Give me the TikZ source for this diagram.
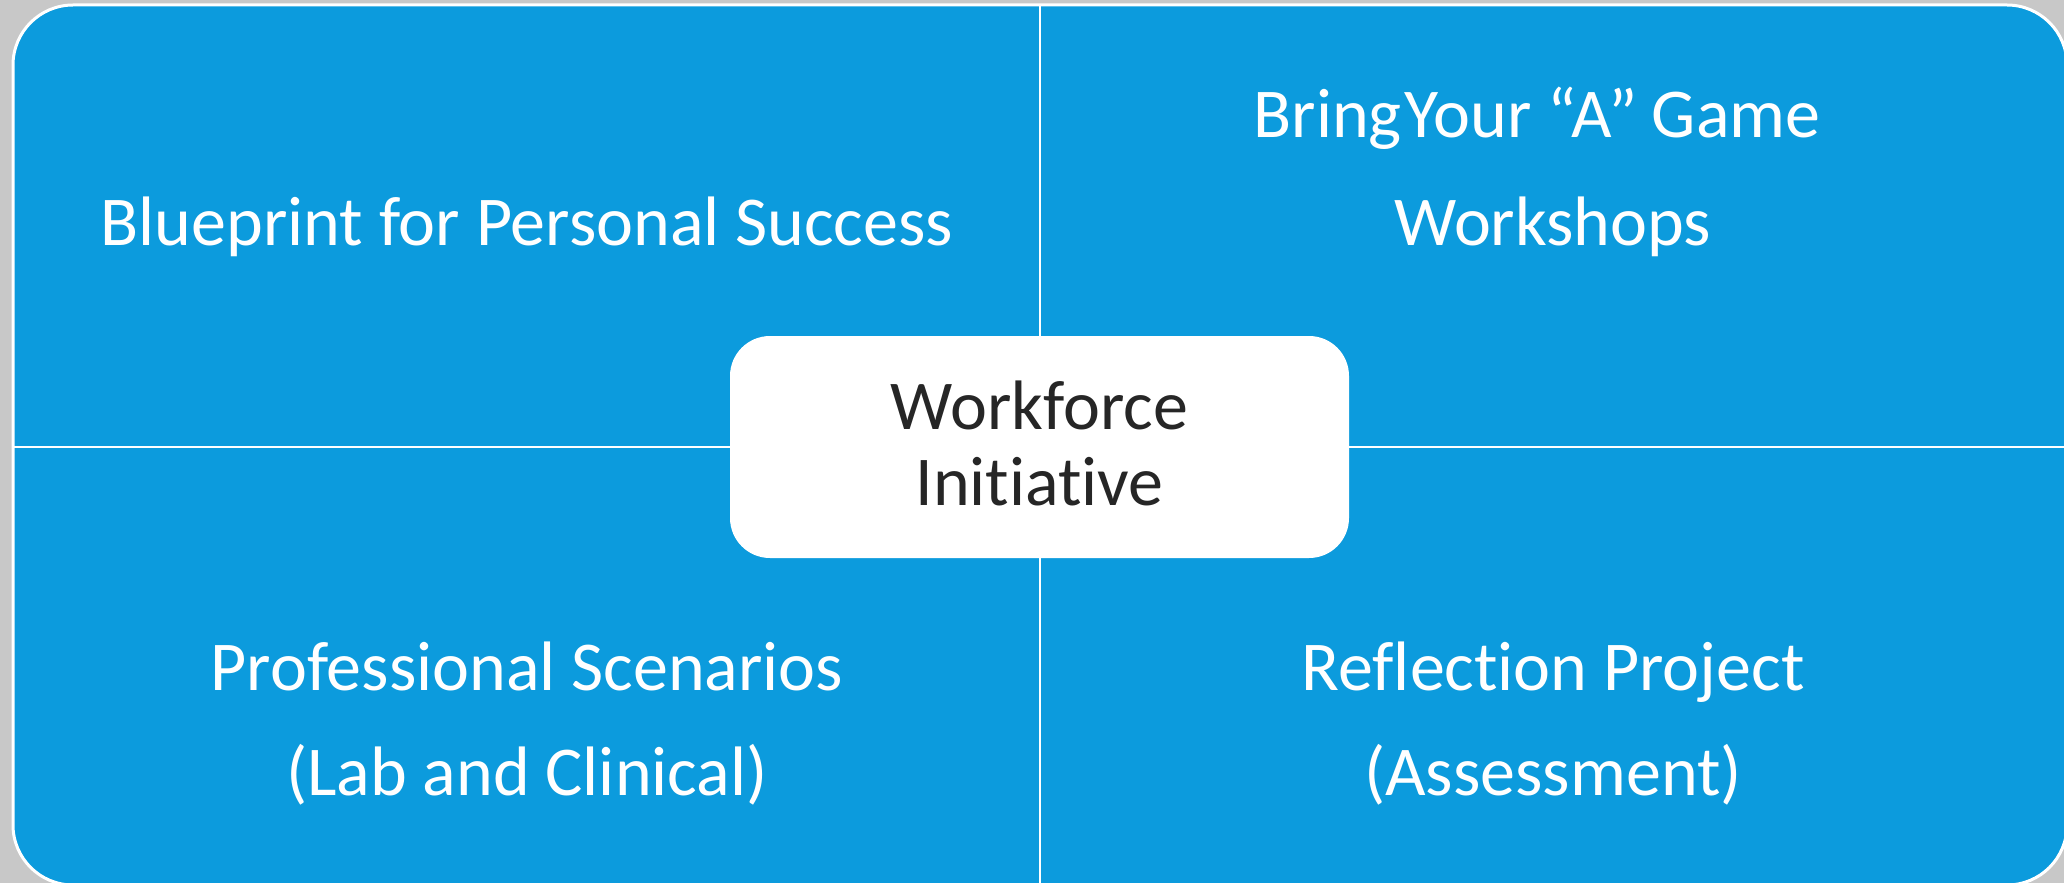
\documentclass[tikz,border=0pt]{standalone}
\usepackage{fontspec}
\setmainfont{Carlito}[Ligatures={NoCommon}]
\definecolor{mblue}{RGB}{12,155,221}
\definecolor{bggray}{RGB}{200,200,200}
\definecolor{darktext}{RGB}{38,38,38}
\begin{document}
\begin{tikzpicture}[x=1pt,y=-1pt,
  quadtext/.style={text=white, font=\fontsize{70}{84}\selectfont, anchor=base, inner sep=0pt},
  hubtext/.style={text=darktext, font=\fontsize{70}{84}\selectfont, anchor=base, inner sep=0pt},
  divider/.style={draw=white, line width=2.5pt},
  frame/.style={fill=mblue, draw=white, line width=3pt, rounded corners=60pt},
  hubbox/.style={fill=white, draw=none, rounded corners=40pt, minimum width=619pt, minimum height=222pt, inner sep=0pt}]
\useasboundingbox (0,0) rectangle (2064,883);
\fill[bggray] (0,0) rectangle (2064,883);
\begin{scope}
\clip (0,0) rectangle (2064,883);
\draw[frame] (13,5) rectangle (2067,885);
\coordinate (vt) at (1040,5);
\coordinate (vb) at (1040,885);
\coordinate (hl) at (13,447);
\coordinate (hr) at (2067,447);
\draw[divider] (vt) -- (vb);
\draw[divider] (hl) -- (hr);
\node[hubbox] (hub) at (1039.5,447) {};
\end{scope}
\node[quadtext] (tl) at (527,245) {Blueprint for Personal Success};
\node[quadtext] (tr1) at (1537,137) {Bring\kern3pt Your “A”\kern-2pt\ Game};
\node[quadtext] (tr2) at (1553,245) {Workshops};
\node[quadtext] (bl1) at (527,690) {Professional Scenarios};
\node[quadtext] (bl2) at (527,795) {(Lab and Clinical)};
\node[quadtext] (br1) at (1553,690) {Reflection Project};
\node[quadtext] (br2) at (1553,795) {(Assessment)};
\node[hubtext] (hub1) at (1039.5,429) {Workforce};
\node[hubtext] (hub2) at (1039.5,505) {Initiative};
\end{tikzpicture}
\end{document}
